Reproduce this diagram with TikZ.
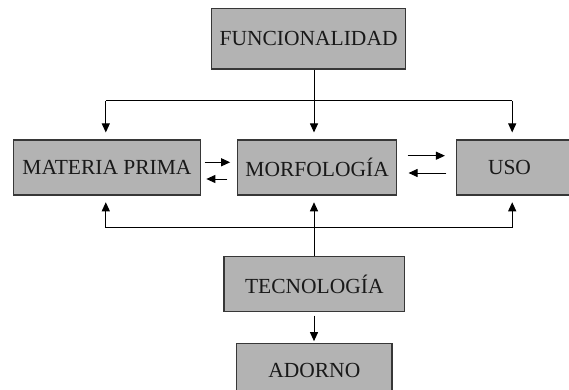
\documentclass[tikz,border=0pt]{standalone}
\usepackage{fontspec}
\setmainfont{Liberation Serif}
\usetikzlibrary{arrows.meta}
\definecolor{boxfill}{RGB}{179,179,179}
\definecolor{boxline}{RGB}{55,55,55}
\tikzset{
  box/.style={draw=boxline, fill=boxfill, line width=1.1pt, rectangle, inner sep=0pt,
    font=\fontsize{21.5}{24}\selectfont, text=black!90},
  arr/.style={line width=1pt, -{Triangle[length=9pt,width=8pt]}},
  ln/.style={line width=1pt}
}
\begin{document}
\begin{tikzpicture}[x=1pt,y=-1pt]
\useasboundingbox (0,0) rectangle (569,390);
\clip (0,0) rectangle (569,390);
\node[box, minimum width=194.2pt, minimum height=60.7pt] (func) at (308.6,38.65) {FUNCIONALIDAD};
\node[box, minimum width=186.2pt, minimum height=55pt] (mp) at (107,167.5) {MATERIA PRIMA};
\node[box, minimum width=158.9pt, minimum height=55pt] (mor) at (317.15,167.5) {MORFOLOGÍA};
\node[box, minimum width=118.5pt, minimum height=55pt] (uso) at (515.75,167.5) {\hspace*{-12.5pt}USO};
\node[box, minimum width=180.6pt, minimum height=55pt] (tec) at (314.3,284.2) {TECNOLOGÍA};
\node[box, minimum width=155.4pt, minimum height=55pt] (ado) at (314.3,370.8) {ADORNO};
\coordinate (tl) at (105.8,101);
\coordinate (tr) at (512.2,101);
\coordinate (bl) at (105.8,227.7);
\coordinate (br) at (512.2,227.7);
\coordinate (cx) at (314,0);
% top distribution
\draw[ln] (tl) -- (tr);
\draw[arr, shorten >=7pt] (func.south -| cx) -- (mor.north -| cx);
\draw[arr, shorten >=7pt] (tl) -- (tl |- mp.north);
\draw[arr, shorten >=7pt] (tr) -- (tr |- uso.north);
% bottom distribution
\draw[ln] (bl) -- (br);
\draw[arr, shorten >=6.7pt] (tec.north -| cx) -- (mor.south -| cx);
\draw[arr, shorten >=6.7pt] (bl) -- (bl |- mp.south);
\draw[arr, shorten >=6.7pt] (br) -- (br |- uso.south);
% tec -> adorno
\draw[arr, shorten <=3.3pt, shorten >=1.6pt] (tec.south -| cx) -- (ado.north -| cx);
% horizontal pairs
\draw[arr, shorten <=4pt, shorten >=7pt] (mp.east |- 0,162.3) -- (mor.west |- 0,162.3);
\draw[arr, shorten <=9.7pt, shorten >=5.7pt] (mor.west |- 0,179) -- (mp.east |- 0,179);
\draw[arr, shorten <=10.4pt, shorten >=11pt] (mor.east |- 0,155.7) -- (uso.west |- 0,155.7);
\draw[arr, shorten <=9.5pt, shorten >=11.4pt] (uso.west |- 0,173) -- (mor.east |- 0,173);
\end{tikzpicture}
\end{document}
